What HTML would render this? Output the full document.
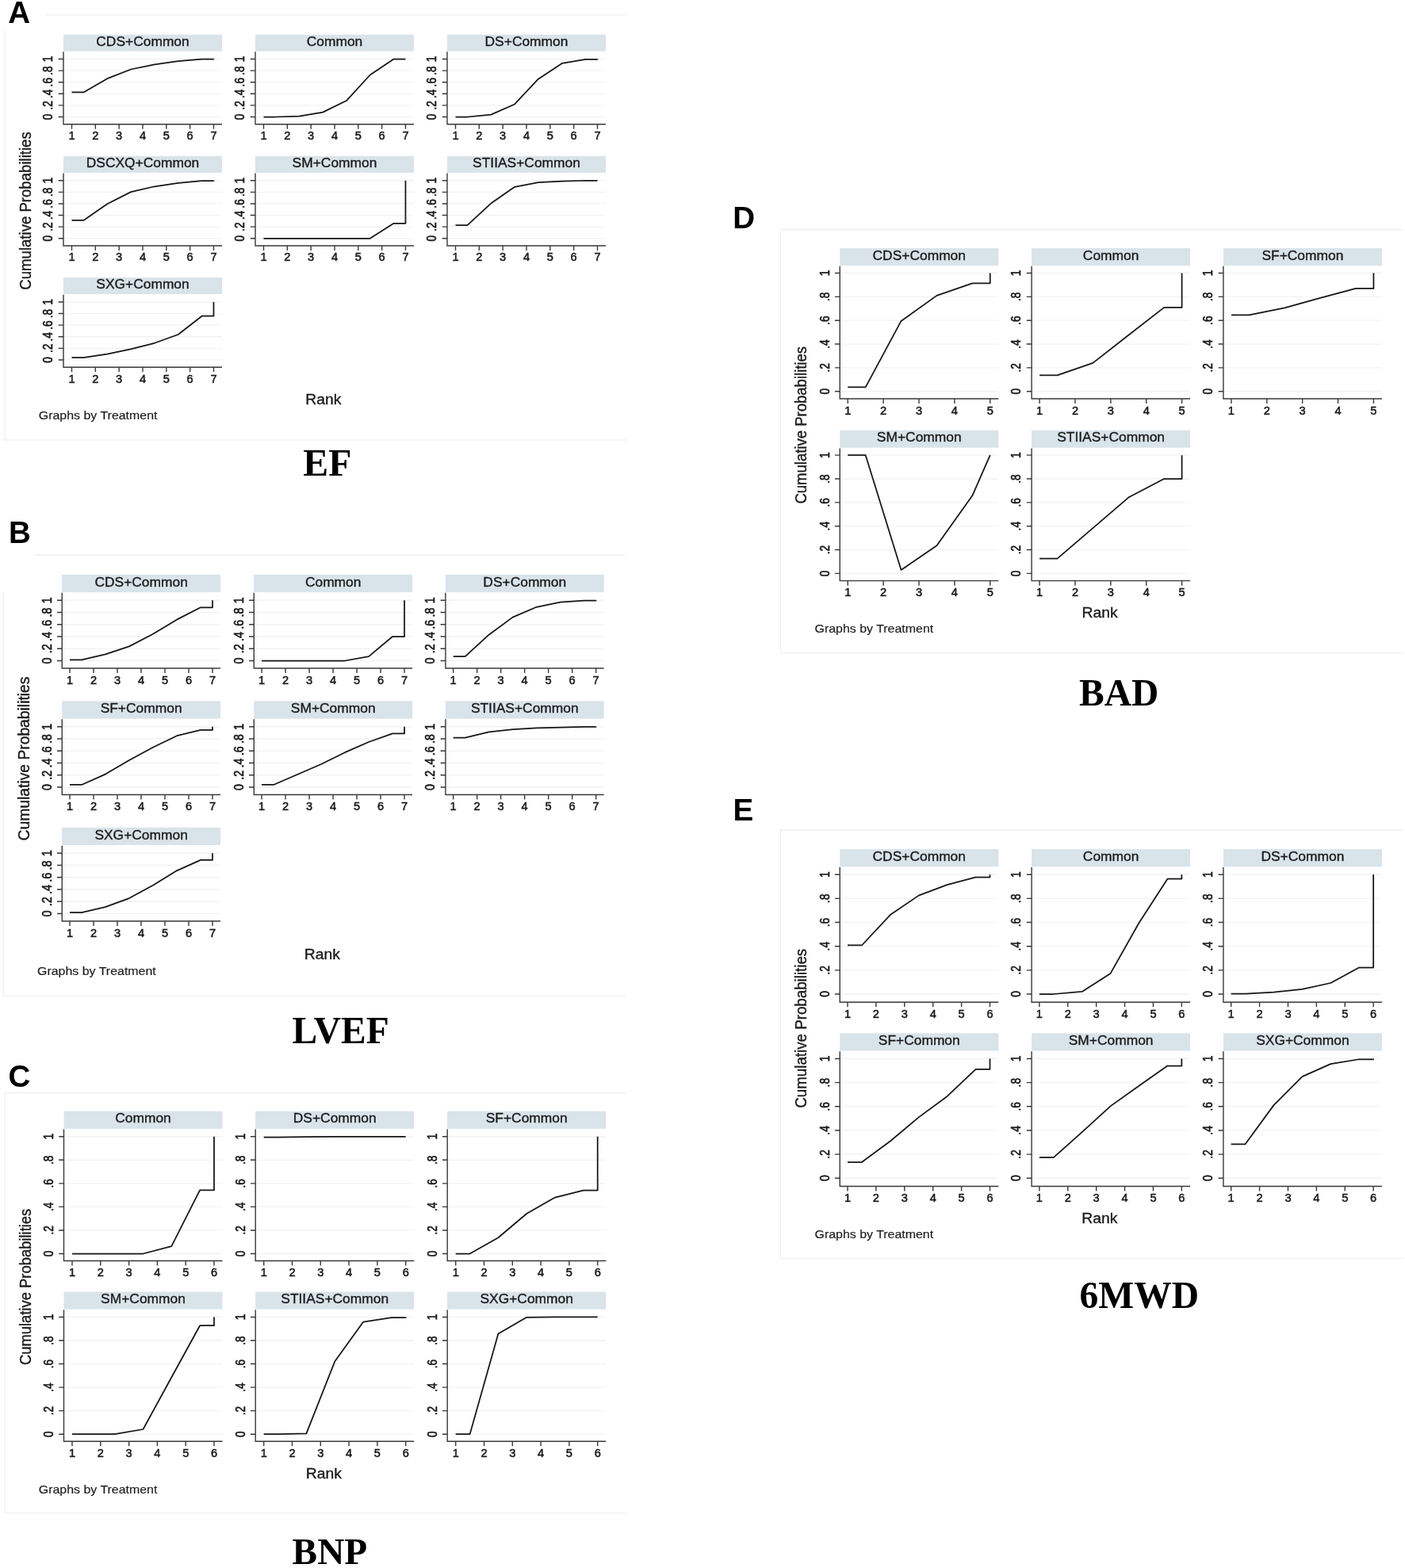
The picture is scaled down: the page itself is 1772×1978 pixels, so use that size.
<!DOCTYPE html>
<html lang="en"><head><meta charset="utf-8"><title>Cumulative ranking probability plots</title>
<style>
html,body{margin:0;padding:0;background:#fff;}
body{width:1772px;height:1978px;overflow:hidden;}
svg{display:block;}
text{font-family:"Liberation Sans", Arial, Helvetica, sans-serif;fill:#1a1a1a;stroke:#1a1a1a;stroke-width:0.35px;}
.hd{fill:#d9e3ea;}
.gr{stroke:#f1f3f4;stroke-width:1.3;fill:none;}
.ax{stroke:#383838;stroke-width:1.4;fill:none;}
.ln{stroke:#151515;stroke-width:1.75;fill:none;stroke-linejoin:round;stroke-linecap:butt;}
.bd{stroke:#eef0f1;stroke-width:1.3;fill:none;}
.m{text-anchor:middle;}
.t{stroke-width:0.55px;}
.n{stroke-width:0.15px;}
.lt{font-weight:bold;font-size:38.6px;fill:#000;stroke:none;}
.nm{font-family:"Liberation Serif", "Times New Roman", Times, serif;font-weight:bold;fill:#000;stroke:none;}
</style></head><body>
<svg width="1772" height="1978" viewBox="0 0 1772 1978" role="img" aria-label="Cumulative ranking probability plots for EF, LVEF, BNP, BAD and 6MWD">
<rect width="1772" height="1978" fill="#fff"/>
<g>
<path class="bd" d="M57.8 18.9H789.5"/>
<path class="bd" d="M5.9 37.9V555H789.5"/>
<text class="lt" x="10.3" y="28.9">A</text>
<g>
<rect class="hd" x="80" y="43.65" width="200" height="20.95"/>
<text class="m" transform="translate(180 57.69) scale(1 1)" font-size="17.4">CDS+Common</text>
<path class="gr" d="M81 147.5H280M81 132.9H280M81 118.3H280M81 103.7H280M81 89.1H280M81 74.5H280"/>
<path class="ax" d="M80 65.3V156.75H280M73.7 147.5H80M73.7 132.9H80M73.7 118.3H80M73.7 103.7H80M73.7 89.1H80M73.7 74.5H80M90.5 156.75V162.75M120.33 156.75V162.75M150.16 156.75V162.75M179.99 156.75V162.75M209.82 156.75V162.75M239.65 156.75V162.75M269.48 156.75V162.75"/>
<polyline class="ln" points="90.5,116.4 105.41,116.4 135.25,99.17 165.07,87.49 194.91,81.29 224.73,77.2 254.56,74.65 269.48,74.65 269.48,74.5"/>
<text class="m t" x="90.5" y="176.05" font-size="14.6">1</text>
<text class="m t" x="120.33" y="176.05" font-size="14.6">2</text>
<text class="m t" x="150.16" y="176.05" font-size="14.6">3</text>
<text class="m t" x="179.99" y="176.05" font-size="14.6">4</text>
<text class="m t" x="209.82" y="176.05" font-size="14.6">5</text>
<text class="m t" x="239.65" y="176.05" font-size="14.6">6</text>
<text class="m t" x="269.48" y="176.05" font-size="14.6">7</text>
<text class="m t" transform="translate(66.3 147.5) rotate(-90) scale(1 1.2)" font-size="13.72">0</text>
<text class="m t" transform="translate(66.3 132.9) rotate(-90) scale(1 1.2)" font-size="13.72">.2</text>
<text class="m t" transform="translate(66.3 118.3) rotate(-90) scale(1 1.2)" font-size="13.72">.4</text>
<text class="m t" transform="translate(66.3 103.7) rotate(-90) scale(1 1.2)" font-size="13.72">.6</text>
<text class="m t" transform="translate(66.3 89.1) rotate(-90) scale(1 1.2)" font-size="13.72">.8</text>
<text class="m t" transform="translate(66.3 74.5) rotate(-90) scale(1 1.2)" font-size="13.72">1</text>
</g>
<g>
<rect class="hd" x="322" y="43.65" width="200" height="20.95"/>
<text class="m" transform="translate(422 57.69) scale(1 1)" font-size="17.4">Common</text>
<path class="gr" d="M323 147.5H522M323 132.9H522M323 118.3H522M323 103.7H522M323 89.1H522M323 74.5H522"/>
<path class="ax" d="M322 65.3V156.75H522M315.7 147.5H322M315.7 132.9H322M315.7 118.3H322M315.7 103.7H322M315.7 89.1H322M315.7 74.5H322M332.5 156.75V162.75M362.33 156.75V162.75M392.16 156.75V162.75M421.99 156.75V162.75M451.82 156.75V162.75M481.65 156.75V162.75M511.48 156.75V162.75"/>
<polyline class="ln" points="332.5,147.5 347.42,147.5 377.25,146.7 407.07,141.66 436.9,127.06 466.74,94.5 496.56,74.5 511.48,74.5 511.48,74.5"/>
<text class="m t" x="332.5" y="176.05" font-size="14.6">1</text>
<text class="m t" x="362.33" y="176.05" font-size="14.6">2</text>
<text class="m t" x="392.16" y="176.05" font-size="14.6">3</text>
<text class="m t" x="421.99" y="176.05" font-size="14.6">4</text>
<text class="m t" x="451.82" y="176.05" font-size="14.6">5</text>
<text class="m t" x="481.65" y="176.05" font-size="14.6">6</text>
<text class="m t" x="511.48" y="176.05" font-size="14.6">7</text>
<text class="m t" transform="translate(308.3 147.5) rotate(-90) scale(1 1.2)" font-size="13.72">0</text>
<text class="m t" transform="translate(308.3 132.9) rotate(-90) scale(1 1.2)" font-size="13.72">.2</text>
<text class="m t" transform="translate(308.3 118.3) rotate(-90) scale(1 1.2)" font-size="13.72">.4</text>
<text class="m t" transform="translate(308.3 103.7) rotate(-90) scale(1 1.2)" font-size="13.72">.6</text>
<text class="m t" transform="translate(308.3 89.1) rotate(-90) scale(1 1.2)" font-size="13.72">.8</text>
<text class="m t" transform="translate(308.3 74.5) rotate(-90) scale(1 1.2)" font-size="13.72">1</text>
</g>
<g>
<rect class="hd" x="564" y="43.65" width="200" height="20.95"/>
<text class="m" transform="translate(664 57.69) scale(1 1)" font-size="17.4">DS+Common</text>
<path class="gr" d="M565 147.5H764M565 132.9H764M565 118.3H764M565 103.7H764M565 89.1H764M565 74.5H764"/>
<path class="ax" d="M564 65.3V156.75H764M557.7 147.5H564M557.7 132.9H564M557.7 118.3H564M557.7 103.7H564M557.7 89.1H564M557.7 74.5H564M574.5 156.75V162.75M604.33 156.75V162.75M634.16 156.75V162.75M663.99 156.75V162.75M693.82 156.75V162.75M723.65 156.75V162.75M753.48 156.75V162.75"/>
<polyline class="ln" points="574.5,147.5 589.41,147.5 619.25,144.58 649.08,131.44 678.9,99.69 708.74,79.9 738.57,74.79 753.48,74.79 753.48,74.5"/>
<text class="m t" x="574.5" y="176.05" font-size="14.6">1</text>
<text class="m t" x="604.33" y="176.05" font-size="14.6">2</text>
<text class="m t" x="634.16" y="176.05" font-size="14.6">3</text>
<text class="m t" x="663.99" y="176.05" font-size="14.6">4</text>
<text class="m t" x="693.82" y="176.05" font-size="14.6">5</text>
<text class="m t" x="723.65" y="176.05" font-size="14.6">6</text>
<text class="m t" x="753.48" y="176.05" font-size="14.6">7</text>
<text class="m t" transform="translate(550.3 147.5) rotate(-90) scale(1 1.2)" font-size="13.72">0</text>
<text class="m t" transform="translate(550.3 132.9) rotate(-90) scale(1 1.2)" font-size="13.72">.2</text>
<text class="m t" transform="translate(550.3 118.3) rotate(-90) scale(1 1.2)" font-size="13.72">.4</text>
<text class="m t" transform="translate(550.3 103.7) rotate(-90) scale(1 1.2)" font-size="13.72">.6</text>
<text class="m t" transform="translate(550.3 89.1) rotate(-90) scale(1 1.2)" font-size="13.72">.8</text>
<text class="m t" transform="translate(550.3 74.5) rotate(-90) scale(1 1.2)" font-size="13.72">1</text>
</g>
<g>
<rect class="hd" x="80" y="196.9" width="200" height="20.95"/>
<text class="m" transform="translate(180 210.94) scale(1 1)" font-size="17.4">DSCXQ+Common</text>
<path class="gr" d="M81 300.75H280M81 286.15H280M81 271.55H280M81 256.95H280M81 242.35H280M81 227.75H280"/>
<path class="ax" d="M80 218.55V310H280M73.7 300.75H80M73.7 286.15H80M73.7 271.55H80M73.7 256.95H80M73.7 242.35H80M73.7 227.75H80M90.5 310V316M120.33 310V316M150.16 310V316M179.99 310V316M209.82 310V316M239.65 310V316M269.48 310V316"/>
<polyline class="ln" points="90.5,277.97 105.41,277.97 135.25,257.31 165.07,242.13 194.91,235.27 224.73,230.82 254.56,228.04 269.48,228.04 269.48,227.75"/>
<text class="m t" x="90.5" y="329.3" font-size="14.6">1</text>
<text class="m t" x="120.33" y="329.3" font-size="14.6">2</text>
<text class="m t" x="150.16" y="329.3" font-size="14.6">3</text>
<text class="m t" x="179.99" y="329.3" font-size="14.6">4</text>
<text class="m t" x="209.82" y="329.3" font-size="14.6">5</text>
<text class="m t" x="239.65" y="329.3" font-size="14.6">6</text>
<text class="m t" x="269.48" y="329.3" font-size="14.6">7</text>
<text class="m t" transform="translate(66.3 300.75) rotate(-90) scale(1 1.2)" font-size="13.72">0</text>
<text class="m t" transform="translate(66.3 286.15) rotate(-90) scale(1 1.2)" font-size="13.72">.2</text>
<text class="m t" transform="translate(66.3 271.55) rotate(-90) scale(1 1.2)" font-size="13.72">.4</text>
<text class="m t" transform="translate(66.3 256.95) rotate(-90) scale(1 1.2)" font-size="13.72">.6</text>
<text class="m t" transform="translate(66.3 242.35) rotate(-90) scale(1 1.2)" font-size="13.72">.8</text>
<text class="m t" transform="translate(66.3 227.75) rotate(-90) scale(1 1.2)" font-size="13.72">1</text>
</g>
<g>
<rect class="hd" x="322" y="196.9" width="200" height="20.95"/>
<text class="m" transform="translate(422 210.94) scale(1 1)" font-size="17.4">SM+Common</text>
<path class="gr" d="M323 300.75H522M323 286.15H522M323 271.55H522M323 256.95H522M323 242.35H522M323 227.75H522"/>
<path class="ax" d="M322 218.55V310H522M315.7 300.75H322M315.7 286.15H322M315.7 271.55H322M315.7 256.95H322M315.7 242.35H322M315.7 227.75H322M332.5 310V316M362.33 310V316M392.16 310V316M421.99 310V316M451.82 310V316M481.65 310V316M511.48 310V316"/>
<polyline class="ln" points="332.5,300.75 347.42,300.75 377.25,300.75 407.07,300.75 436.9,300.75 466.74,300.75 496.56,281.77 511.48,281.77 511.48,227.75"/>
<text class="m t" x="332.5" y="329.3" font-size="14.6">1</text>
<text class="m t" x="362.33" y="329.3" font-size="14.6">2</text>
<text class="m t" x="392.16" y="329.3" font-size="14.6">3</text>
<text class="m t" x="421.99" y="329.3" font-size="14.6">4</text>
<text class="m t" x="451.82" y="329.3" font-size="14.6">5</text>
<text class="m t" x="481.65" y="329.3" font-size="14.6">6</text>
<text class="m t" x="511.48" y="329.3" font-size="14.6">7</text>
<text class="m t" transform="translate(308.3 300.75) rotate(-90) scale(1 1.2)" font-size="13.72">0</text>
<text class="m t" transform="translate(308.3 286.15) rotate(-90) scale(1 1.2)" font-size="13.72">.2</text>
<text class="m t" transform="translate(308.3 271.55) rotate(-90) scale(1 1.2)" font-size="13.72">.4</text>
<text class="m t" transform="translate(308.3 256.95) rotate(-90) scale(1 1.2)" font-size="13.72">.6</text>
<text class="m t" transform="translate(308.3 242.35) rotate(-90) scale(1 1.2)" font-size="13.72">.8</text>
<text class="m t" transform="translate(308.3 227.75) rotate(-90) scale(1 1.2)" font-size="13.72">1</text>
</g>
<g>
<rect class="hd" x="564" y="196.9" width="200" height="20.95"/>
<text class="m" transform="translate(664 210.94) scale(1 1)" font-size="17.4">STIIAS+Common</text>
<path class="gr" d="M565 300.75H764M565 286.15H764M565 271.55H764M565 256.95H764M565 242.35H764M565 227.75H764"/>
<path class="ax" d="M564 218.55V310H764M557.7 300.75H564M557.7 286.15H564M557.7 271.55H564M557.7 256.95H564M557.7 242.35H564M557.7 227.75H564M574.5 310V316M604.33 310V316M634.16 310V316M663.99 310V316M693.82 310V316M723.65 310V316M753.48 310V316"/>
<polyline class="ln" points="574.5,284.11 589.41,284.11 619.25,256.58 649.08,235.78 678.9,230.16 708.74,228.55 738.57,227.75 753.48,227.75 753.48,227.75"/>
<text class="m t" x="574.5" y="329.3" font-size="14.6">1</text>
<text class="m t" x="604.33" y="329.3" font-size="14.6">2</text>
<text class="m t" x="634.16" y="329.3" font-size="14.6">3</text>
<text class="m t" x="663.99" y="329.3" font-size="14.6">4</text>
<text class="m t" x="693.82" y="329.3" font-size="14.6">5</text>
<text class="m t" x="723.65" y="329.3" font-size="14.6">6</text>
<text class="m t" x="753.48" y="329.3" font-size="14.6">7</text>
<text class="m t" transform="translate(550.3 300.75) rotate(-90) scale(1 1.2)" font-size="13.72">0</text>
<text class="m t" transform="translate(550.3 286.15) rotate(-90) scale(1 1.2)" font-size="13.72">.2</text>
<text class="m t" transform="translate(550.3 271.55) rotate(-90) scale(1 1.2)" font-size="13.72">.4</text>
<text class="m t" transform="translate(550.3 256.95) rotate(-90) scale(1 1.2)" font-size="13.72">.6</text>
<text class="m t" transform="translate(550.3 242.35) rotate(-90) scale(1 1.2)" font-size="13.72">.8</text>
<text class="m t" transform="translate(550.3 227.75) rotate(-90) scale(1 1.2)" font-size="13.72">1</text>
</g>
<g>
<rect class="hd" x="80" y="350.1" width="200" height="20.95"/>
<text class="m" transform="translate(180 364.14) scale(1 1)" font-size="17.4">SXG+Common</text>
<path class="gr" d="M81 453.95H280M81 439.35H280M81 424.75H280M81 410.15H280M81 395.55H280M81 380.95H280"/>
<path class="ax" d="M80 371.75V463.2H280M73.7 453.95H80M73.7 439.35H80M73.7 424.75H80M73.7 410.15H80M73.7 395.55H80M73.7 380.95H80M90.5 463.2V469.2M120.33 463.2V469.2M150.16 463.2V469.2M179.99 463.2V469.2M209.82 463.2V469.2M239.65 463.2V469.2M269.48 463.2V469.2"/>
<polyline class="ln" points="90.5,451.03 105.41,451.03 135.25,446.65 165.07,440.3 194.91,432.78 224.73,422.05 254.56,398.69 269.48,398.69 269.48,380.95"/>
<text class="m t" x="90.5" y="482.5" font-size="14.6">1</text>
<text class="m t" x="120.33" y="482.5" font-size="14.6">2</text>
<text class="m t" x="150.16" y="482.5" font-size="14.6">3</text>
<text class="m t" x="179.99" y="482.5" font-size="14.6">4</text>
<text class="m t" x="209.82" y="482.5" font-size="14.6">5</text>
<text class="m t" x="239.65" y="482.5" font-size="14.6">6</text>
<text class="m t" x="269.48" y="482.5" font-size="14.6">7</text>
<text class="m t" transform="translate(66.3 453.95) rotate(-90) scale(1 1.2)" font-size="13.72">0</text>
<text class="m t" transform="translate(66.3 439.35) rotate(-90) scale(1 1.2)" font-size="13.72">.2</text>
<text class="m t" transform="translate(66.3 424.75) rotate(-90) scale(1 1.2)" font-size="13.72">.4</text>
<text class="m t" transform="translate(66.3 410.15) rotate(-90) scale(1 1.2)" font-size="13.72">.6</text>
<text class="m t" transform="translate(66.3 395.55) rotate(-90) scale(1 1.2)" font-size="13.72">.8</text>
<text class="m t" transform="translate(66.3 380.95) rotate(-90) scale(1 1.2)" font-size="13.72">1</text>
</g>
<text class="m" transform="translate(407.9 510) scale(1.07 1)" font-size="18.1">Rank</text>
<text class="n" transform="translate(48.75 528.9) scale(1.085 1)" font-size="14.7">Graphs by Treatment</text>
<text class="m" transform="translate(39.3 266) rotate(-90) scale(1 1.08)" font-size="18.6">Cumulative Probabilities</text>
<text class="nm" x="382.3" y="599.5" font-size="47.8">EF</text>
</g>
<g>
<path class="bd" d="M43.5 700H788.5"/>
<path class="bd" d="M4.3 746.8V1256.5H788.5"/>
<text class="lt" x="11" y="685">B</text>
<g>
<rect class="hd" x="78.25" y="724.9" width="199.75" height="22.2"/>
<text class="m" transform="translate(178.12 739.86) scale(1 1)" font-size="17.4">CDS+Common</text>
<path class="gr" d="M79.25 833.5H278M79.25 818.25H278M79.25 803H278M79.25 787.75H278M79.25 772.5H278M79.25 757.25H278"/>
<path class="ax" d="M78.25 747.8V843H278M71.95 833.5H78.25M71.95 818.25H78.25M71.95 803H78.25M71.95 787.75H78.25M71.95 772.5H78.25M71.95 757.25H78.25M88 843V849M118 843V849M148 843V849M178 843V849M208 843V849M238 843V849M268 843V849"/>
<polyline class="ln" points="88,832.28 103,832.28 133,825.42 163,815.35 193,799.8 223,781.65 253,766.25 268,766.25 268,757.25"/>
<text class="m t" x="88" y="862.6" font-size="14.6">1</text>
<text class="m t" x="118" y="862.6" font-size="14.6">2</text>
<text class="m t" x="148" y="862.6" font-size="14.6">3</text>
<text class="m t" x="178" y="862.6" font-size="14.6">4</text>
<text class="m t" x="208" y="862.6" font-size="14.6">5</text>
<text class="m t" x="238" y="862.6" font-size="14.6">6</text>
<text class="m t" x="268" y="862.6" font-size="14.6">7</text>
<text class="m t" transform="translate(64.55 833.5) rotate(-90) scale(1.037 1.2)" font-size="13.72">0</text>
<text class="m t" transform="translate(64.55 818.25) rotate(-90) scale(1.037 1.2)" font-size="13.72">.2</text>
<text class="m t" transform="translate(64.55 803) rotate(-90) scale(1.037 1.2)" font-size="13.72">.4</text>
<text class="m t" transform="translate(64.55 787.75) rotate(-90) scale(1.037 1.2)" font-size="13.72">.6</text>
<text class="m t" transform="translate(64.55 772.5) rotate(-90) scale(1.037 1.2)" font-size="13.72">.8</text>
<text class="m t" transform="translate(64.55 757.25) rotate(-90) scale(1.037 1.2)" font-size="13.72">1</text>
</g>
<g>
<rect class="hd" x="320.3" y="724.9" width="199.75" height="22.2"/>
<text class="m" transform="translate(420.18 739.86) scale(1 1)" font-size="17.4">Common</text>
<path class="gr" d="M321.3 833.5H520.05M321.3 818.25H520.05M321.3 803H520.05M321.3 787.75H520.05M321.3 772.5H520.05M321.3 757.25H520.05"/>
<path class="ax" d="M320.3 747.8V843H520.05M314 833.5H320.3M314 818.25H320.3M314 803H320.3M314 787.75H320.3M314 772.5H320.3M314 757.25H320.3M330.05 843V849M360.05 843V849M390.05 843V849M420.05 843V849M450.05 843V849M480.05 843V849M510.05 843V849"/>
<polyline class="ln" points="330.05,833.5 345.05,833.5 375.05,833.5 405.05,833.5 435.05,833.5 465.05,828.16 495.05,803 510.05,803 510.05,757.25"/>
<text class="m t" x="330.05" y="862.6" font-size="14.6">1</text>
<text class="m t" x="360.05" y="862.6" font-size="14.6">2</text>
<text class="m t" x="390.05" y="862.6" font-size="14.6">3</text>
<text class="m t" x="420.05" y="862.6" font-size="14.6">4</text>
<text class="m t" x="450.05" y="862.6" font-size="14.6">5</text>
<text class="m t" x="480.05" y="862.6" font-size="14.6">6</text>
<text class="m t" x="510.05" y="862.6" font-size="14.6">7</text>
<text class="m t" transform="translate(306.6 833.5) rotate(-90) scale(1.037 1.2)" font-size="13.72">0</text>
<text class="m t" transform="translate(306.6 818.25) rotate(-90) scale(1.037 1.2)" font-size="13.72">.2</text>
<text class="m t" transform="translate(306.6 803) rotate(-90) scale(1.037 1.2)" font-size="13.72">.4</text>
<text class="m t" transform="translate(306.6 787.75) rotate(-90) scale(1.037 1.2)" font-size="13.72">.6</text>
<text class="m t" transform="translate(306.6 772.5) rotate(-90) scale(1.037 1.2)" font-size="13.72">.8</text>
<text class="m t" transform="translate(306.6 757.25) rotate(-90) scale(1.037 1.2)" font-size="13.72">1</text>
</g>
<g>
<rect class="hd" x="561.9" y="724.9" width="199.75" height="22.2"/>
<text class="m" transform="translate(661.77 739.86) scale(1 1)" font-size="17.4">DS+Common</text>
<path class="gr" d="M562.9 833.5H761.65M562.9 818.25H761.65M562.9 803H761.65M562.9 787.75H761.65M562.9 772.5H761.65M562.9 757.25H761.65"/>
<path class="ax" d="M561.9 747.8V843H761.65M555.6 833.5H561.9M555.6 818.25H561.9M555.6 803H561.9M555.6 787.75H561.9M555.6 772.5H561.9M555.6 757.25H561.9M571.65 843V849M601.65 843V849M631.65 843V849M661.65 843V849M691.65 843V849M721.65 843V849M751.65 843V849"/>
<polyline class="ln" points="571.65,828.16 586.65,828.16 616.65,800.71 646.65,778.6 676.65,765.79 706.65,759.69 736.65,757.63 751.65,757.63 751.65,757.25"/>
<text class="m t" x="571.65" y="862.6" font-size="14.6">1</text>
<text class="m t" x="601.65" y="862.6" font-size="14.6">2</text>
<text class="m t" x="631.65" y="862.6" font-size="14.6">3</text>
<text class="m t" x="661.65" y="862.6" font-size="14.6">4</text>
<text class="m t" x="691.65" y="862.6" font-size="14.6">5</text>
<text class="m t" x="721.65" y="862.6" font-size="14.6">6</text>
<text class="m t" x="751.65" y="862.6" font-size="14.6">7</text>
<text class="m t" transform="translate(548.2 833.5) rotate(-90) scale(1.037 1.2)" font-size="13.72">0</text>
<text class="m t" transform="translate(548.2 818.25) rotate(-90) scale(1.037 1.2)" font-size="13.72">.2</text>
<text class="m t" transform="translate(548.2 803) rotate(-90) scale(1.037 1.2)" font-size="13.72">.4</text>
<text class="m t" transform="translate(548.2 787.75) rotate(-90) scale(1.037 1.2)" font-size="13.72">.6</text>
<text class="m t" transform="translate(548.2 772.5) rotate(-90) scale(1.037 1.2)" font-size="13.72">.8</text>
<text class="m t" transform="translate(548.2 757.25) rotate(-90) scale(1.037 1.2)" font-size="13.72">1</text>
</g>
<g>
<rect class="hd" x="78.25" y="884.4" width="199.75" height="22.2"/>
<text class="m" transform="translate(178.12 899.36) scale(1 1)" font-size="17.4">SF+Common</text>
<path class="gr" d="M79.25 993H278M79.25 977.75H278M79.25 962.5H278M79.25 947.25H278M79.25 932H278M79.25 916.75H278"/>
<path class="ax" d="M78.25 907.3V1002.5H278M71.95 993H78.25M71.95 977.75H78.25M71.95 962.5H78.25M71.95 947.25H78.25M71.95 932H78.25M71.95 916.75H78.25M88 1002.5V1008.5M118 1002.5V1008.5M148 1002.5V1008.5M178 1002.5V1008.5M208 1002.5V1008.5M238 1002.5V1008.5M268 1002.5V1008.5"/>
<polyline class="ln" points="88,989.95 103,989.95 133,976.61 163,958.99 193,942.67 223,928.19 253,920.87 268,920.87 268,916.75"/>
<text class="m t" x="88" y="1022.1" font-size="14.6">1</text>
<text class="m t" x="118" y="1022.1" font-size="14.6">2</text>
<text class="m t" x="148" y="1022.1" font-size="14.6">3</text>
<text class="m t" x="178" y="1022.1" font-size="14.6">4</text>
<text class="m t" x="208" y="1022.1" font-size="14.6">5</text>
<text class="m t" x="238" y="1022.1" font-size="14.6">6</text>
<text class="m t" x="268" y="1022.1" font-size="14.6">7</text>
<text class="m t" transform="translate(64.55 993) rotate(-90) scale(1.037 1.2)" font-size="13.72">0</text>
<text class="m t" transform="translate(64.55 977.75) rotate(-90) scale(1.037 1.2)" font-size="13.72">.2</text>
<text class="m t" transform="translate(64.55 962.5) rotate(-90) scale(1.037 1.2)" font-size="13.72">.4</text>
<text class="m t" transform="translate(64.55 947.25) rotate(-90) scale(1.037 1.2)" font-size="13.72">.6</text>
<text class="m t" transform="translate(64.55 932) rotate(-90) scale(1.037 1.2)" font-size="13.72">.8</text>
<text class="m t" transform="translate(64.55 916.75) rotate(-90) scale(1.037 1.2)" font-size="13.72">1</text>
</g>
<g>
<rect class="hd" x="320.3" y="884.4" width="199.75" height="22.2"/>
<text class="m" transform="translate(420.18 899.36) scale(1 1)" font-size="17.4">SM+Common</text>
<path class="gr" d="M321.3 993H520.05M321.3 977.75H520.05M321.3 962.5H520.05M321.3 947.25H520.05M321.3 932H520.05M321.3 916.75H520.05"/>
<path class="ax" d="M320.3 907.3V1002.5H520.05M314 993H320.3M314 977.75H320.3M314 962.5H320.3M314 947.25H320.3M314 932H320.3M314 916.75H320.3M330.05 1002.5V1008.5M360.05 1002.5V1008.5M390.05 1002.5V1008.5M420.05 1002.5V1008.5M450.05 1002.5V1008.5M480.05 1002.5V1008.5M510.05 1002.5V1008.5"/>
<polyline class="ln" points="330.05,989.95 345.05,989.95 375.05,976.99 405.05,964.02 435.05,949.16 465.05,936.04 495.05,925.37 510.05,925.37 510.05,916.75"/>
<text class="m t" x="330.05" y="1022.1" font-size="14.6">1</text>
<text class="m t" x="360.05" y="1022.1" font-size="14.6">2</text>
<text class="m t" x="390.05" y="1022.1" font-size="14.6">3</text>
<text class="m t" x="420.05" y="1022.1" font-size="14.6">4</text>
<text class="m t" x="450.05" y="1022.1" font-size="14.6">5</text>
<text class="m t" x="480.05" y="1022.1" font-size="14.6">6</text>
<text class="m t" x="510.05" y="1022.1" font-size="14.6">7</text>
<text class="m t" transform="translate(306.6 993) rotate(-90) scale(1.037 1.2)" font-size="13.72">0</text>
<text class="m t" transform="translate(306.6 977.75) rotate(-90) scale(1.037 1.2)" font-size="13.72">.2</text>
<text class="m t" transform="translate(306.6 962.5) rotate(-90) scale(1.037 1.2)" font-size="13.72">.4</text>
<text class="m t" transform="translate(306.6 947.25) rotate(-90) scale(1.037 1.2)" font-size="13.72">.6</text>
<text class="m t" transform="translate(306.6 932) rotate(-90) scale(1.037 1.2)" font-size="13.72">.8</text>
<text class="m t" transform="translate(306.6 916.75) rotate(-90) scale(1.037 1.2)" font-size="13.72">1</text>
</g>
<g>
<rect class="hd" x="561.9" y="884.4" width="199.75" height="22.2"/>
<text class="m" transform="translate(661.77 899.36) scale(1 1)" font-size="17.4">STIIAS+Common</text>
<path class="gr" d="M562.9 993H761.65M562.9 977.75H761.65M562.9 962.5H761.65M562.9 947.25H761.65M562.9 932H761.65M562.9 916.75H761.65"/>
<path class="ax" d="M561.9 907.3V1002.5H761.65M555.6 993H561.9M555.6 977.75H561.9M555.6 962.5H561.9M555.6 947.25H561.9M555.6 932H561.9M555.6 916.75H561.9M571.65 1002.5V1008.5M601.65 1002.5V1008.5M631.65 1002.5V1008.5M661.65 1002.5V1008.5M691.65 1002.5V1008.5M721.65 1002.5V1008.5M751.65 1002.5V1008.5"/>
<polyline class="ln" points="571.65,930.7 586.65,930.7 616.65,923.31 646.65,920.03 676.65,918.43 706.65,917.59 736.65,916.98 751.65,916.98 751.65,916.75"/>
<text class="m t" x="571.65" y="1022.1" font-size="14.6">1</text>
<text class="m t" x="601.65" y="1022.1" font-size="14.6">2</text>
<text class="m t" x="631.65" y="1022.1" font-size="14.6">3</text>
<text class="m t" x="661.65" y="1022.1" font-size="14.6">4</text>
<text class="m t" x="691.65" y="1022.1" font-size="14.6">5</text>
<text class="m t" x="721.65" y="1022.1" font-size="14.6">6</text>
<text class="m t" x="751.65" y="1022.1" font-size="14.6">7</text>
<text class="m t" transform="translate(548.2 993) rotate(-90) scale(1.037 1.2)" font-size="13.72">0</text>
<text class="m t" transform="translate(548.2 977.75) rotate(-90) scale(1.037 1.2)" font-size="13.72">.2</text>
<text class="m t" transform="translate(548.2 962.5) rotate(-90) scale(1.037 1.2)" font-size="13.72">.4</text>
<text class="m t" transform="translate(548.2 947.25) rotate(-90) scale(1.037 1.2)" font-size="13.72">.6</text>
<text class="m t" transform="translate(548.2 932) rotate(-90) scale(1.037 1.2)" font-size="13.72">.8</text>
<text class="m t" transform="translate(548.2 916.75) rotate(-90) scale(1.037 1.2)" font-size="13.72">1</text>
</g>
<g>
<rect class="hd" x="78.25" y="1043.9" width="199.75" height="22.2"/>
<text class="m" transform="translate(178.12 1058.86) scale(1 1)" font-size="17.4">SXG+Common</text>
<path class="gr" d="M79.25 1152.5H278M79.25 1137.25H278M79.25 1122H278M79.25 1106.75H278M79.25 1091.5H278M79.25 1076.25H278"/>
<path class="ax" d="M78.25 1066.8V1162H278M71.95 1152.5H78.25M71.95 1137.25H78.25M71.95 1122H78.25M71.95 1106.75H78.25M71.95 1091.5H78.25M71.95 1076.25H78.25M88 1162V1168M118 1162V1168M148 1162V1168M178 1162V1168M208 1162V1168M238 1162V1168M268 1162V1168"/>
<polyline class="ln" points="88,1151.2 103,1151.2 133,1144.11 163,1133.06 193,1116.66 223,1098.36 253,1084.87 268,1084.87 268,1076.25"/>
<text class="m t" x="88" y="1181.6" font-size="14.6">1</text>
<text class="m t" x="118" y="1181.6" font-size="14.6">2</text>
<text class="m t" x="148" y="1181.6" font-size="14.6">3</text>
<text class="m t" x="178" y="1181.6" font-size="14.6">4</text>
<text class="m t" x="208" y="1181.6" font-size="14.6">5</text>
<text class="m t" x="238" y="1181.6" font-size="14.6">6</text>
<text class="m t" x="268" y="1181.6" font-size="14.6">7</text>
<text class="m t" transform="translate(64.55 1152.5) rotate(-90) scale(1.037 1.2)" font-size="13.72">0</text>
<text class="m t" transform="translate(64.55 1137.25) rotate(-90) scale(1.037 1.2)" font-size="13.72">.2</text>
<text class="m t" transform="translate(64.55 1122) rotate(-90) scale(1.037 1.2)" font-size="13.72">.4</text>
<text class="m t" transform="translate(64.55 1106.75) rotate(-90) scale(1.037 1.2)" font-size="13.72">.6</text>
<text class="m t" transform="translate(64.55 1091.5) rotate(-90) scale(1.037 1.2)" font-size="13.72">.8</text>
<text class="m t" transform="translate(64.55 1076.25) rotate(-90) scale(1.037 1.2)" font-size="13.72">1</text>
</g>
<text class="m" transform="translate(406.3 1209.7) scale(1.07 1.037)" font-size="18.1">Rank</text>
<text class="n" transform="translate(47 1230.2) scale(1.085 1.037)" font-size="14.7">Graphs by Treatment</text>
<text class="m" transform="translate(37.3 957) rotate(-90) scale(1.037 1.08)" font-size="18.6">Cumulative Probabilities</text>
<text class="nm" x="368.5" y="1316.2" font-size="47.5">LVEF</text>
</g>
<g>
<path class="bd" d="M6.1 1378.5H789.5"/>
<path class="bd" d="M6.1 1378.5V1908.7H789.5"/>
<text class="lt" x="10.6" y="1370.6">C</text>
<g>
<rect class="hd" x="80.5" y="1401.9" width="200" height="21.95"/>
<text class="m" transform="translate(180.5 1416.36) scale(1 1)" font-size="17.4">Common</text>
<path class="gr" d="M81.5 1581.5H280.5M81.5 1551.95H280.5M81.5 1522.4H280.5M81.5 1492.85H280.5M81.5 1463.3H280.5M81.5 1433.75H280.5"/>
<path class="ax" d="M80.5 1424.55V1590.5H280.5M74.2 1581.5H80.5M74.2 1551.95H80.5M74.2 1522.4H80.5M74.2 1492.85H80.5M74.2 1463.3H80.5M74.2 1433.75H80.5M91 1590.5V1596.5M126.8 1590.5V1596.5M162.6 1590.5V1596.5M198.4 1590.5V1596.5M234.2 1590.5V1596.5M270 1590.5V1596.5"/>
<polyline class="ln" points="91,1581.5 108.9,1581.5 144.7,1581.5 180.5,1581.5 216.3,1572.04 252.1,1501.27 270,1501.27 270,1433.75"/>
<text class="m t" x="91" y="1610" font-size="14.6">1</text>
<text class="m t" x="126.8" y="1610" font-size="14.6">2</text>
<text class="m t" x="162.6" y="1610" font-size="14.6">3</text>
<text class="m t" x="198.4" y="1610" font-size="14.6">4</text>
<text class="m t" x="234.2" y="1610" font-size="14.6">5</text>
<text class="m t" x="270" y="1610" font-size="14.6">6</text>
<text class="m t" transform="translate(66.8 1581.5) rotate(-90) scale(0.99 1.2)" font-size="13.72">0</text>
<text class="m t" transform="translate(66.8 1551.95) rotate(-90) scale(0.99 1.2)" font-size="13.72">.2</text>
<text class="m t" transform="translate(66.8 1522.4) rotate(-90) scale(0.99 1.2)" font-size="13.72">.4</text>
<text class="m t" transform="translate(66.8 1492.85) rotate(-90) scale(0.99 1.2)" font-size="13.72">.6</text>
<text class="m t" transform="translate(66.8 1463.3) rotate(-90) scale(0.99 1.2)" font-size="13.72">.8</text>
<text class="m t" transform="translate(66.8 1433.75) rotate(-90) scale(0.99 1.2)" font-size="13.72">1</text>
</g>
<g>
<rect class="hd" x="322.2" y="1401.9" width="200" height="21.95"/>
<text class="m" transform="translate(422.2 1416.36) scale(1 1)" font-size="17.4">DS+Common</text>
<path class="gr" d="M323.2 1581.5H522.2M323.2 1551.95H522.2M323.2 1522.4H522.2M323.2 1492.85H522.2M323.2 1463.3H522.2M323.2 1433.75H522.2"/>
<path class="ax" d="M322.2 1424.55V1590.5H522.2M315.9 1581.5H322.2M315.9 1551.95H322.2M315.9 1522.4H322.2M315.9 1492.85H322.2M315.9 1463.3H322.2M315.9 1433.75H322.2M332.7 1590.5V1596.5M368.5 1590.5V1596.5M404.3 1590.5V1596.5M440.1 1590.5V1596.5M475.9 1590.5V1596.5M511.7 1590.5V1596.5"/>
<polyline class="ln" points="332.7,1434.64 350.6,1434.64 386.4,1434.19 422.2,1433.9 458,1433.75 493.8,1433.75 511.7,1433.75 511.7,1433.75"/>
<text class="m t" x="332.7" y="1610" font-size="14.6">1</text>
<text class="m t" x="368.5" y="1610" font-size="14.6">2</text>
<text class="m t" x="404.3" y="1610" font-size="14.6">3</text>
<text class="m t" x="440.1" y="1610" font-size="14.6">4</text>
<text class="m t" x="475.9" y="1610" font-size="14.6">5</text>
<text class="m t" x="511.7" y="1610" font-size="14.6">6</text>
<text class="m t" transform="translate(308.5 1581.5) rotate(-90) scale(0.99 1.2)" font-size="13.72">0</text>
<text class="m t" transform="translate(308.5 1551.95) rotate(-90) scale(0.99 1.2)" font-size="13.72">.2</text>
<text class="m t" transform="translate(308.5 1522.4) rotate(-90) scale(0.99 1.2)" font-size="13.72">.4</text>
<text class="m t" transform="translate(308.5 1492.85) rotate(-90) scale(0.99 1.2)" font-size="13.72">.6</text>
<text class="m t" transform="translate(308.5 1463.3) rotate(-90) scale(0.99 1.2)" font-size="13.72">.8</text>
<text class="m t" transform="translate(308.5 1433.75) rotate(-90) scale(0.99 1.2)" font-size="13.72">1</text>
</g>
<g>
<rect class="hd" x="564.2" y="1401.9" width="200" height="21.95"/>
<text class="m" transform="translate(664.2 1416.36) scale(1 1)" font-size="17.4">SF+Common</text>
<path class="gr" d="M565.2 1581.5H764.2M565.2 1551.95H764.2M565.2 1522.4H764.2M565.2 1492.85H764.2M565.2 1463.3H764.2M565.2 1433.75H764.2"/>
<path class="ax" d="M564.2 1424.55V1590.5H764.2M557.9 1581.5H564.2M557.9 1551.95H564.2M557.9 1522.4H564.2M557.9 1492.85H564.2M557.9 1463.3H564.2M557.9 1433.75H564.2M574.7 1590.5V1596.5M610.5 1590.5V1596.5M646.3 1590.5V1596.5M682.1 1590.5V1596.5M717.9 1590.5V1596.5M753.7 1590.5V1596.5"/>
<polyline class="ln" points="574.7,1581.5 592.6,1581.5 628.4,1561.26 664.2,1530.97 700,1510.58 735.8,1501.57 753.7,1501.57 753.7,1433.75"/>
<text class="m t" x="574.7" y="1610" font-size="14.6">1</text>
<text class="m t" x="610.5" y="1610" font-size="14.6">2</text>
<text class="m t" x="646.3" y="1610" font-size="14.6">3</text>
<text class="m t" x="682.1" y="1610" font-size="14.6">4</text>
<text class="m t" x="717.9" y="1610" font-size="14.6">5</text>
<text class="m t" x="753.7" y="1610" font-size="14.6">6</text>
<text class="m t" transform="translate(550.5 1581.5) rotate(-90) scale(0.99 1.2)" font-size="13.72">0</text>
<text class="m t" transform="translate(550.5 1551.95) rotate(-90) scale(0.99 1.2)" font-size="13.72">.2</text>
<text class="m t" transform="translate(550.5 1522.4) rotate(-90) scale(0.99 1.2)" font-size="13.72">.4</text>
<text class="m t" transform="translate(550.5 1492.85) rotate(-90) scale(0.99 1.2)" font-size="13.72">.6</text>
<text class="m t" transform="translate(550.5 1463.3) rotate(-90) scale(0.99 1.2)" font-size="13.72">.8</text>
<text class="m t" transform="translate(550.5 1433.75) rotate(-90) scale(0.99 1.2)" font-size="13.72">1</text>
</g>
<g>
<rect class="hd" x="80.5" y="1629.6" width="200" height="21.95"/>
<text class="m" transform="translate(180.5 1644.06) scale(1 1)" font-size="17.4">SM+Common</text>
<path class="gr" d="M81.5 1809.2H280.5M81.5 1779.65H280.5M81.5 1750.1H280.5M81.5 1720.55H280.5M81.5 1691H280.5M81.5 1661.45H280.5"/>
<path class="ax" d="M80.5 1652.25V1818.2H280.5M74.2 1809.2H80.5M74.2 1779.65H80.5M74.2 1750.1H80.5M74.2 1720.55H80.5M74.2 1691H80.5M74.2 1661.45H80.5M91 1818.2V1824.2M126.8 1818.2V1824.2M162.6 1818.2V1824.2M198.4 1818.2V1824.2M234.2 1818.2V1824.2M270 1818.2V1824.2"/>
<polyline class="ln" points="91,1809.2 108.9,1809.2 144.7,1809.2 180.5,1802.99 216.3,1737.54 252.1,1672.24 270,1672.24 270,1661.45"/>
<text class="m t" x="91" y="1837.7" font-size="14.6">1</text>
<text class="m t" x="126.8" y="1837.7" font-size="14.6">2</text>
<text class="m t" x="162.6" y="1837.7" font-size="14.6">3</text>
<text class="m t" x="198.4" y="1837.7" font-size="14.6">4</text>
<text class="m t" x="234.2" y="1837.7" font-size="14.6">5</text>
<text class="m t" x="270" y="1837.7" font-size="14.6">6</text>
<text class="m t" transform="translate(66.8 1809.2) rotate(-90) scale(0.99 1.2)" font-size="13.72">0</text>
<text class="m t" transform="translate(66.8 1779.65) rotate(-90) scale(0.99 1.2)" font-size="13.72">.2</text>
<text class="m t" transform="translate(66.8 1750.1) rotate(-90) scale(0.99 1.2)" font-size="13.72">.4</text>
<text class="m t" transform="translate(66.8 1720.55) rotate(-90) scale(0.99 1.2)" font-size="13.72">.6</text>
<text class="m t" transform="translate(66.8 1691) rotate(-90) scale(0.99 1.2)" font-size="13.72">.8</text>
<text class="m t" transform="translate(66.8 1661.45) rotate(-90) scale(0.99 1.2)" font-size="13.72">1</text>
</g>
<g>
<rect class="hd" x="322.2" y="1629.6" width="200" height="21.95"/>
<text class="m" transform="translate(422.2 1644.06) scale(1 1)" font-size="17.4">STIIAS+Common</text>
<path class="gr" d="M323.2 1809.2H522.2M323.2 1779.65H522.2M323.2 1750.1H522.2M323.2 1720.55H522.2M323.2 1691H522.2M323.2 1661.45H522.2"/>
<path class="ax" d="M322.2 1652.25V1818.2H522.2M315.9 1809.2H322.2M315.9 1779.65H322.2M315.9 1750.1H322.2M315.9 1720.55H322.2M315.9 1691H322.2M315.9 1661.45H322.2M332.7 1818.2V1824.2M368.5 1818.2V1824.2M404.3 1818.2V1824.2M440.1 1818.2V1824.2M475.9 1818.2V1824.2M511.7 1818.2V1824.2"/>
<polyline class="ln" points="332.7,1809.2 350.6,1809.2 386.4,1808.31 422.2,1717.6 458,1667.66 493.8,1662.04 511.7,1662.04 511.7,1661.45"/>
<text class="m t" x="332.7" y="1837.7" font-size="14.6">1</text>
<text class="m t" x="368.5" y="1837.7" font-size="14.6">2</text>
<text class="m t" x="404.3" y="1837.7" font-size="14.6">3</text>
<text class="m t" x="440.1" y="1837.7" font-size="14.6">4</text>
<text class="m t" x="475.9" y="1837.7" font-size="14.6">5</text>
<text class="m t" x="511.7" y="1837.7" font-size="14.6">6</text>
<text class="m t" transform="translate(308.5 1809.2) rotate(-90) scale(0.99 1.2)" font-size="13.72">0</text>
<text class="m t" transform="translate(308.5 1779.65) rotate(-90) scale(0.99 1.2)" font-size="13.72">.2</text>
<text class="m t" transform="translate(308.5 1750.1) rotate(-90) scale(0.99 1.2)" font-size="13.72">.4</text>
<text class="m t" transform="translate(308.5 1720.55) rotate(-90) scale(0.99 1.2)" font-size="13.72">.6</text>
<text class="m t" transform="translate(308.5 1691) rotate(-90) scale(0.99 1.2)" font-size="13.72">.8</text>
<text class="m t" transform="translate(308.5 1661.45) rotate(-90) scale(0.99 1.2)" font-size="13.72">1</text>
</g>
<g>
<rect class="hd" x="564.2" y="1629.6" width="200" height="21.95"/>
<text class="m" transform="translate(664.2 1644.06) scale(1 1)" font-size="17.4">SXG+Common</text>
<path class="gr" d="M565.2 1809.2H764.2M565.2 1779.65H764.2M565.2 1750.1H764.2M565.2 1720.55H764.2M565.2 1691H764.2M565.2 1661.45H764.2"/>
<path class="ax" d="M564.2 1652.25V1818.2H764.2M557.9 1809.2H564.2M557.9 1779.65H564.2M557.9 1750.1H564.2M557.9 1720.55H564.2M557.9 1691H564.2M557.9 1661.45H564.2M574.7 1818.2V1824.2M610.5 1818.2V1824.2M646.3 1818.2V1824.2M682.1 1818.2V1824.2M717.9 1818.2V1824.2M753.7 1818.2V1824.2"/>
<polyline class="ln" points="574.7,1809.2 592.6,1809.2 628.4,1682.58 664.2,1661.75 700,1661.45 735.8,1661.45 753.7,1661.45 753.7,1661.45"/>
<text class="m t" x="574.7" y="1837.7" font-size="14.6">1</text>
<text class="m t" x="610.5" y="1837.7" font-size="14.6">2</text>
<text class="m t" x="646.3" y="1837.7" font-size="14.6">3</text>
<text class="m t" x="682.1" y="1837.7" font-size="14.6">4</text>
<text class="m t" x="717.9" y="1837.7" font-size="14.6">5</text>
<text class="m t" x="753.7" y="1837.7" font-size="14.6">6</text>
<text class="m t" transform="translate(550.5 1809.2) rotate(-90) scale(0.99 1.2)" font-size="13.72">0</text>
<text class="m t" transform="translate(550.5 1779.65) rotate(-90) scale(0.99 1.2)" font-size="13.72">.2</text>
<text class="m t" transform="translate(550.5 1750.1) rotate(-90) scale(0.99 1.2)" font-size="13.72">.4</text>
<text class="m t" transform="translate(550.5 1720.55) rotate(-90) scale(0.99 1.2)" font-size="13.72">.6</text>
<text class="m t" transform="translate(550.5 1691) rotate(-90) scale(0.99 1.2)" font-size="13.72">.8</text>
<text class="m t" transform="translate(550.5 1661.45) rotate(-90) scale(0.99 1.2)" font-size="13.72">1</text>
</g>
<text class="m" transform="translate(408.3 1864.5) scale(1.07 0.99)" font-size="18.1">Rank</text>
<text class="n" transform="translate(48.75 1883.9) scale(1.085 0.99)" font-size="14.7">Graphs by Treatment</text>
<text class="m" transform="translate(39.3 1623.4) rotate(-90) scale(0.99 1.08)" font-size="18.6">Cumulative Probabilities</text>
<text class="nm" x="368.6" y="1972.8" font-size="47.3">BNP</text>
</g>
<g>
<path class="bd" d="M984.3 289.5H1769.5"/>
<path class="bd" d="M984.3 289.5V823.8H1769.5"/>
<text class="lt" x="924.2" y="287.5">D</text>
<g>
<rect class="hd" x="1059.25" y="313.15" width="200" height="21.95"/>
<text class="m" transform="translate(1159.25 327.66) scale(1 1)" font-size="17.4">CDS+Common</text>
<path class="gr" d="M1060.25 493.75H1259.25M1060.25 463.9H1259.25M1060.25 434.05H1259.25M1060.25 404.2H1259.25M1060.25 374.35H1259.25M1060.25 344.5H1259.25"/>
<path class="ax" d="M1059.25 335.8V503H1259.25M1052.95 493.75H1059.25M1052.95 463.9H1059.25M1052.95 434.05H1059.25M1052.95 404.2H1059.25M1052.95 374.35H1059.25M1052.95 344.5H1059.25M1069.25 503V509M1114.12 503V509M1159 503V509M1203.88 503V509M1248.75 503V509"/>
<polyline class="ln" points="1069.25,488.38 1091.69,488.38 1136.56,404.95 1181.44,372.86 1226.31,357.34 1248.75,357.34 1248.75,344.5"/>
<text class="m t" x="1069.25" y="522.5" font-size="14.6">1</text>
<text class="m t" x="1114.12" y="522.5" font-size="14.6">2</text>
<text class="m t" x="1159" y="522.5" font-size="14.6">3</text>
<text class="m t" x="1203.88" y="522.5" font-size="14.6">4</text>
<text class="m t" x="1248.75" y="522.5" font-size="14.6">5</text>
<text class="m t" transform="translate(1045.55 493.75) rotate(-90) scale(0.996 1.2)" font-size="13.72">0</text>
<text class="m t" transform="translate(1045.55 463.9) rotate(-90) scale(0.996 1.2)" font-size="13.72">.2</text>
<text class="m t" transform="translate(1045.55 434.05) rotate(-90) scale(0.996 1.2)" font-size="13.72">.4</text>
<text class="m t" transform="translate(1045.55 404.2) rotate(-90) scale(0.996 1.2)" font-size="13.72">.6</text>
<text class="m t" transform="translate(1045.55 374.35) rotate(-90) scale(0.996 1.2)" font-size="13.72">.8</text>
<text class="m t" transform="translate(1045.55 344.5) rotate(-90) scale(0.996 1.2)" font-size="13.72">1</text>
</g>
<g>
<rect class="hd" x="1301.1" y="313.15" width="200" height="21.95"/>
<text class="m" transform="translate(1401.1 327.66) scale(1 1)" font-size="17.4">Common</text>
<path class="gr" d="M1302.1 493.75H1501.1M1302.1 463.9H1501.1M1302.1 434.05H1501.1M1302.1 404.2H1501.1M1302.1 374.35H1501.1M1302.1 344.5H1501.1"/>
<path class="ax" d="M1301.1 335.8V503H1501.1M1294.8 493.75H1301.1M1294.8 463.9H1301.1M1294.8 434.05H1301.1M1294.8 404.2H1301.1M1294.8 374.35H1301.1M1294.8 344.5H1301.1M1311.1 503V509M1355.97 503V509M1400.85 503V509M1445.72 503V509M1490.6 503V509"/>
<polyline class="ln" points="1311.1,473.45 1333.54,473.45 1378.41,457.93 1423.29,422.71 1468.16,387.93 1490.6,387.93 1490.6,344.5"/>
<text class="m t" x="1311.1" y="522.5" font-size="14.6">1</text>
<text class="m t" x="1355.97" y="522.5" font-size="14.6">2</text>
<text class="m t" x="1400.85" y="522.5" font-size="14.6">3</text>
<text class="m t" x="1445.72" y="522.5" font-size="14.6">4</text>
<text class="m t" x="1490.6" y="522.5" font-size="14.6">5</text>
<text class="m t" transform="translate(1287.4 493.75) rotate(-90) scale(0.996 1.2)" font-size="13.72">0</text>
<text class="m t" transform="translate(1287.4 463.9) rotate(-90) scale(0.996 1.2)" font-size="13.72">.2</text>
<text class="m t" transform="translate(1287.4 434.05) rotate(-90) scale(0.996 1.2)" font-size="13.72">.4</text>
<text class="m t" transform="translate(1287.4 404.2) rotate(-90) scale(0.996 1.2)" font-size="13.72">.6</text>
<text class="m t" transform="translate(1287.4 374.35) rotate(-90) scale(0.996 1.2)" font-size="13.72">.8</text>
<text class="m t" transform="translate(1287.4 344.5) rotate(-90) scale(0.996 1.2)" font-size="13.72">1</text>
</g>
<g>
<rect class="hd" x="1542.9" y="313.15" width="200" height="21.95"/>
<text class="m" transform="translate(1642.9 327.66) scale(1 1)" font-size="17.4">SF+Common</text>
<path class="gr" d="M1543.9 493.75H1742.9M1543.9 463.9H1742.9M1543.9 434.05H1742.9M1543.9 404.2H1742.9M1543.9 374.35H1742.9M1543.9 344.5H1742.9"/>
<path class="ax" d="M1542.9 335.8V503H1742.9M1536.6 493.75H1542.9M1536.6 463.9H1542.9M1536.6 434.05H1542.9M1536.6 404.2H1542.9M1536.6 374.35H1542.9M1536.6 344.5H1542.9M1552.9 503V509M1597.78 503V509M1642.65 503V509M1687.53 503V509M1732.4 503V509"/>
<polyline class="ln" points="1552.9,397.48 1575.34,397.48 1620.21,388.38 1665.09,375.84 1709.96,363.9 1732.4,363.9 1732.4,344.5"/>
<text class="m t" x="1552.9" y="522.5" font-size="14.6">1</text>
<text class="m t" x="1597.78" y="522.5" font-size="14.6">2</text>
<text class="m t" x="1642.65" y="522.5" font-size="14.6">3</text>
<text class="m t" x="1687.53" y="522.5" font-size="14.6">4</text>
<text class="m t" x="1732.4" y="522.5" font-size="14.6">5</text>
<text class="m t" transform="translate(1529.2 493.75) rotate(-90) scale(0.996 1.2)" font-size="13.72">0</text>
<text class="m t" transform="translate(1529.2 463.9) rotate(-90) scale(0.996 1.2)" font-size="13.72">.2</text>
<text class="m t" transform="translate(1529.2 434.05) rotate(-90) scale(0.996 1.2)" font-size="13.72">.4</text>
<text class="m t" transform="translate(1529.2 404.2) rotate(-90) scale(0.996 1.2)" font-size="13.72">.6</text>
<text class="m t" transform="translate(1529.2 374.35) rotate(-90) scale(0.996 1.2)" font-size="13.72">.8</text>
<text class="m t" transform="translate(1529.2 344.5) rotate(-90) scale(0.996 1.2)" font-size="13.72">1</text>
</g>
<g>
<rect class="hd" x="1059.25" y="542.8" width="200" height="21.95"/>
<text class="m" transform="translate(1159.25 557.31) scale(1 1)" font-size="17.4">SM+Common</text>
<path class="gr" d="M1060.25 723.4H1259.25M1060.25 693.55H1259.25M1060.25 663.7H1259.25M1060.25 633.85H1259.25M1060.25 604H1259.25M1060.25 574.15H1259.25"/>
<path class="ax" d="M1059.25 565.45V732.65H1259.25M1052.95 723.4H1059.25M1052.95 693.55H1059.25M1052.95 663.7H1059.25M1052.95 633.85H1059.25M1052.95 604H1059.25M1052.95 574.15H1059.25M1069.25 732.65V738.65M1114.12 732.65V738.65M1159 732.65V738.65M1203.88 732.65V738.65M1248.75 732.65V738.65"/>
<polyline class="ln" points="1069.25,574.15 1091.69,574.15 1136.56,718.92 1181.44,688.18 1226.31,625.34 1248.75,574.15"/>
<text class="m t" x="1069.25" y="752.15" font-size="14.6">1</text>
<text class="m t" x="1114.12" y="752.15" font-size="14.6">2</text>
<text class="m t" x="1159" y="752.15" font-size="14.6">3</text>
<text class="m t" x="1203.88" y="752.15" font-size="14.6">4</text>
<text class="m t" x="1248.75" y="752.15" font-size="14.6">5</text>
<text class="m t" transform="translate(1045.55 723.4) rotate(-90) scale(0.996 1.2)" font-size="13.72">0</text>
<text class="m t" transform="translate(1045.55 693.55) rotate(-90) scale(0.996 1.2)" font-size="13.72">.2</text>
<text class="m t" transform="translate(1045.55 663.7) rotate(-90) scale(0.996 1.2)" font-size="13.72">.4</text>
<text class="m t" transform="translate(1045.55 633.85) rotate(-90) scale(0.996 1.2)" font-size="13.72">.6</text>
<text class="m t" transform="translate(1045.55 604) rotate(-90) scale(0.996 1.2)" font-size="13.72">.8</text>
<text class="m t" transform="translate(1045.55 574.15) rotate(-90) scale(0.996 1.2)" font-size="13.72">1</text>
</g>
<g>
<rect class="hd" x="1301.1" y="542.8" width="200" height="21.95"/>
<text class="m" transform="translate(1401.1 557.31) scale(1 1)" font-size="17.4">STIIAS+Common</text>
<path class="gr" d="M1302.1 723.4H1501.1M1302.1 693.55H1501.1M1302.1 663.7H1501.1M1302.1 633.85H1501.1M1302.1 604H1501.1M1302.1 574.15H1501.1"/>
<path class="ax" d="M1301.1 565.45V732.65H1501.1M1294.8 723.4H1301.1M1294.8 693.55H1301.1M1294.8 663.7H1301.1M1294.8 633.85H1301.1M1294.8 604H1301.1M1294.8 574.15H1301.1M1311.1 732.65V738.65M1355.97 732.65V738.65M1400.85 732.65V738.65M1445.72 732.65V738.65M1490.6 732.65V738.65"/>
<polyline class="ln" points="1311.1,704.59 1333.54,704.59 1378.41,666.09 1423.29,627.58 1468.16,604 1490.6,604 1490.6,574.15"/>
<text class="m t" x="1311.1" y="752.15" font-size="14.6">1</text>
<text class="m t" x="1355.97" y="752.15" font-size="14.6">2</text>
<text class="m t" x="1400.85" y="752.15" font-size="14.6">3</text>
<text class="m t" x="1445.72" y="752.15" font-size="14.6">4</text>
<text class="m t" x="1490.6" y="752.15" font-size="14.6">5</text>
<text class="m t" transform="translate(1287.4 723.4) rotate(-90) scale(0.996 1.2)" font-size="13.72">0</text>
<text class="m t" transform="translate(1287.4 693.55) rotate(-90) scale(0.996 1.2)" font-size="13.72">.2</text>
<text class="m t" transform="translate(1287.4 663.7) rotate(-90) scale(0.996 1.2)" font-size="13.72">.4</text>
<text class="m t" transform="translate(1287.4 633.85) rotate(-90) scale(0.996 1.2)" font-size="13.72">.6</text>
<text class="m t" transform="translate(1287.4 604) rotate(-90) scale(0.996 1.2)" font-size="13.72">.8</text>
<text class="m t" transform="translate(1287.4 574.15) rotate(-90) scale(0.996 1.2)" font-size="13.72">1</text>
</g>
<text class="m" transform="translate(1387 779) scale(1.07 0.996)" font-size="18.1">Rank</text>
<text class="n" transform="translate(1027.5 797.7) scale(1.085 0.996)" font-size="14.7">Graphs by Treatment</text>
<text class="m" transform="translate(1017.3 536.25) rotate(-90) scale(0.996 1.08)" font-size="18.6">Cumulative Probabilities</text>
<text class="nm" x="1361" y="889.8" font-size="47.5">BAD</text>
</g>
<g>
<path class="bd" d="M984.3 1047H1769.5"/>
<path class="bd" d="M984.3 1047V1587.6H1769.5"/>
<text class="lt" x="924.5" y="1035">E</text>
<g>
<rect class="hd" x="1059.25" y="1071.15" width="200" height="22.2"/>
<text class="m" transform="translate(1159.25 1085.88) scale(1 1)" font-size="17.4">CDS+Common</text>
<path class="gr" d="M1060.25 1254H1259.25M1060.25 1223.85H1259.25M1060.25 1193.7H1259.25M1060.25 1163.55H1259.25M1060.25 1133.4H1259.25M1060.25 1103.25H1259.25"/>
<path class="ax" d="M1059.25 1094.05V1264.25H1259.25M1052.95 1254H1059.25M1052.95 1223.85H1059.25M1052.95 1193.7H1059.25M1052.95 1163.55H1059.25M1052.95 1133.4H1059.25M1052.95 1103.25H1059.25M1069 1264.25V1270.25M1104.9 1264.25V1270.25M1140.8 1264.25V1270.25M1176.7 1264.25V1270.25M1212.6 1264.25V1270.25M1248.5 1264.25V1270.25"/>
<polyline class="ln" points="1069,1192.49 1086.95,1192.49 1122.85,1154.05 1158.75,1129.63 1194.65,1116.06 1230.55,1106.57 1248.5,1106.57 1248.5,1103.25"/>
<text class="m t" x="1069" y="1283.55" font-size="14.6">1</text>
<text class="m t" x="1104.9" y="1283.55" font-size="14.6">2</text>
<text class="m t" x="1140.8" y="1283.55" font-size="14.6">3</text>
<text class="m t" x="1176.7" y="1283.55" font-size="14.6">4</text>
<text class="m t" x="1212.6" y="1283.55" font-size="14.6">5</text>
<text class="m t" x="1248.5" y="1283.55" font-size="14.6">6</text>
<text class="m t" transform="translate(1045.55 1254) rotate(-90) scale(1.008 1.2)" font-size="13.72">0</text>
<text class="m t" transform="translate(1045.55 1223.85) rotate(-90) scale(1.008 1.2)" font-size="13.72">.2</text>
<text class="m t" transform="translate(1045.55 1193.7) rotate(-90) scale(1.008 1.2)" font-size="13.72">.4</text>
<text class="m t" transform="translate(1045.55 1163.55) rotate(-90) scale(1.008 1.2)" font-size="13.72">.6</text>
<text class="m t" transform="translate(1045.55 1133.4) rotate(-90) scale(1.008 1.2)" font-size="13.72">.8</text>
<text class="m t" transform="translate(1045.55 1103.25) rotate(-90) scale(1.008 1.2)" font-size="13.72">1</text>
</g>
<g>
<rect class="hd" x="1301.1" y="1071.15" width="200" height="22.2"/>
<text class="m" transform="translate(1401.1 1085.88) scale(1 1)" font-size="17.4">Common</text>
<path class="gr" d="M1302.1 1254H1501.1M1302.1 1223.85H1501.1M1302.1 1193.7H1501.1M1302.1 1163.55H1501.1M1302.1 1133.4H1501.1M1302.1 1103.25H1501.1"/>
<path class="ax" d="M1301.1 1094.05V1264.25H1501.1M1294.8 1254H1301.1M1294.8 1223.85H1301.1M1294.8 1193.7H1301.1M1294.8 1163.55H1301.1M1294.8 1133.4H1301.1M1294.8 1103.25H1301.1M1310.85 1264.25V1270.25M1346.75 1264.25V1270.25M1382.65 1264.25V1270.25M1418.55 1264.25V1270.25M1454.45 1264.25V1270.25M1490.35 1264.25V1270.25"/>
<polyline class="ln" points="1310.85,1254 1328.8,1254 1364.7,1250.98 1400.6,1227.92 1436.5,1164.3 1472.4,1108.68 1490.35,1108.68 1490.35,1103.25"/>
<text class="m t" x="1310.85" y="1283.55" font-size="14.6">1</text>
<text class="m t" x="1346.75" y="1283.55" font-size="14.6">2</text>
<text class="m t" x="1382.65" y="1283.55" font-size="14.6">3</text>
<text class="m t" x="1418.55" y="1283.55" font-size="14.6">4</text>
<text class="m t" x="1454.45" y="1283.55" font-size="14.6">5</text>
<text class="m t" x="1490.35" y="1283.55" font-size="14.6">6</text>
<text class="m t" transform="translate(1287.4 1254) rotate(-90) scale(1.008 1.2)" font-size="13.72">0</text>
<text class="m t" transform="translate(1287.4 1223.85) rotate(-90) scale(1.008 1.2)" font-size="13.72">.2</text>
<text class="m t" transform="translate(1287.4 1193.7) rotate(-90) scale(1.008 1.2)" font-size="13.72">.4</text>
<text class="m t" transform="translate(1287.4 1163.55) rotate(-90) scale(1.008 1.2)" font-size="13.72">.6</text>
<text class="m t" transform="translate(1287.4 1133.4) rotate(-90) scale(1.008 1.2)" font-size="13.72">.8</text>
<text class="m t" transform="translate(1287.4 1103.25) rotate(-90) scale(1.008 1.2)" font-size="13.72">1</text>
</g>
<g>
<rect class="hd" x="1542.9" y="1071.15" width="200" height="22.2"/>
<text class="m" transform="translate(1642.9 1085.88) scale(1 1)" font-size="17.4">DS+Common</text>
<path class="gr" d="M1543.9 1254H1742.9M1543.9 1223.85H1742.9M1543.9 1193.7H1742.9M1543.9 1163.55H1742.9M1543.9 1133.4H1742.9M1543.9 1103.25H1742.9"/>
<path class="ax" d="M1542.9 1094.05V1264.25H1742.9M1536.6 1254H1542.9M1536.6 1223.85H1542.9M1536.6 1193.7H1542.9M1536.6 1163.55H1542.9M1536.6 1133.4H1542.9M1536.6 1103.25H1542.9M1552.65 1264.25V1270.25M1588.55 1264.25V1270.25M1624.45 1264.25V1270.25M1660.35 1264.25V1270.25M1696.25 1264.25V1270.25M1732.15 1264.25V1270.25"/>
<polyline class="ln" points="1552.65,1253.55 1570.6,1253.55 1606.5,1251.59 1642.4,1247.97 1678.3,1239.98 1714.2,1220.53 1732.15,1220.53 1732.15,1103.25"/>
<text class="m t" x="1552.65" y="1283.55" font-size="14.6">1</text>
<text class="m t" x="1588.55" y="1283.55" font-size="14.6">2</text>
<text class="m t" x="1624.45" y="1283.55" font-size="14.6">3</text>
<text class="m t" x="1660.35" y="1283.55" font-size="14.6">4</text>
<text class="m t" x="1696.25" y="1283.55" font-size="14.6">5</text>
<text class="m t" x="1732.15" y="1283.55" font-size="14.6">6</text>
<text class="m t" transform="translate(1529.2 1254) rotate(-90) scale(1.008 1.2)" font-size="13.72">0</text>
<text class="m t" transform="translate(1529.2 1223.85) rotate(-90) scale(1.008 1.2)" font-size="13.72">.2</text>
<text class="m t" transform="translate(1529.2 1193.7) rotate(-90) scale(1.008 1.2)" font-size="13.72">.4</text>
<text class="m t" transform="translate(1529.2 1163.55) rotate(-90) scale(1.008 1.2)" font-size="13.72">.6</text>
<text class="m t" transform="translate(1529.2 1133.4) rotate(-90) scale(1.008 1.2)" font-size="13.72">.8</text>
<text class="m t" transform="translate(1529.2 1103.25) rotate(-90) scale(1.008 1.2)" font-size="13.72">1</text>
</g>
<g>
<rect class="hd" x="1059.25" y="1303.4" width="200" height="22.2"/>
<text class="m" transform="translate(1159.25 1318.13) scale(1 1)" font-size="17.4">SF+Common</text>
<path class="gr" d="M1060.25 1486.25H1259.25M1060.25 1456.1H1259.25M1060.25 1425.95H1259.25M1060.25 1395.8H1259.25M1060.25 1365.65H1259.25M1060.25 1335.5H1259.25"/>
<path class="ax" d="M1059.25 1326.3V1496.5H1259.25M1052.95 1486.25H1059.25M1052.95 1456.1H1059.25M1052.95 1425.95H1059.25M1052.95 1395.8H1059.25M1052.95 1365.65H1059.25M1052.95 1335.5H1059.25M1069 1496.5V1502.5M1104.9 1496.5V1502.5M1140.8 1496.5V1502.5M1176.7 1496.5V1502.5M1212.6 1496.5V1502.5M1248.5 1496.5V1502.5"/>
<polyline class="ln" points="1069,1466.05 1086.95,1466.05 1122.85,1439.52 1158.75,1409.37 1194.65,1382.99 1230.55,1348.77 1248.5,1348.77 1248.5,1335.5"/>
<text class="m t" x="1069" y="1515.8" font-size="14.6">1</text>
<text class="m t" x="1104.9" y="1515.8" font-size="14.6">2</text>
<text class="m t" x="1140.8" y="1515.8" font-size="14.6">3</text>
<text class="m t" x="1176.7" y="1515.8" font-size="14.6">4</text>
<text class="m t" x="1212.6" y="1515.8" font-size="14.6">5</text>
<text class="m t" x="1248.5" y="1515.8" font-size="14.6">6</text>
<text class="m t" transform="translate(1045.55 1486.25) rotate(-90) scale(1.008 1.2)" font-size="13.72">0</text>
<text class="m t" transform="translate(1045.55 1456.1) rotate(-90) scale(1.008 1.2)" font-size="13.72">.2</text>
<text class="m t" transform="translate(1045.55 1425.95) rotate(-90) scale(1.008 1.2)" font-size="13.72">.4</text>
<text class="m t" transform="translate(1045.55 1395.8) rotate(-90) scale(1.008 1.2)" font-size="13.72">.6</text>
<text class="m t" transform="translate(1045.55 1365.65) rotate(-90) scale(1.008 1.2)" font-size="13.72">.8</text>
<text class="m t" transform="translate(1045.55 1335.5) rotate(-90) scale(1.008 1.2)" font-size="13.72">1</text>
</g>
<g>
<rect class="hd" x="1301.1" y="1303.4" width="200" height="22.2"/>
<text class="m" transform="translate(1401.1 1318.13) scale(1 1)" font-size="17.4">SM+Common</text>
<path class="gr" d="M1302.1 1486.25H1501.1M1302.1 1456.1H1501.1M1302.1 1425.95H1501.1M1302.1 1395.8H1501.1M1302.1 1365.65H1501.1M1302.1 1335.5H1501.1"/>
<path class="ax" d="M1301.1 1326.3V1496.5H1501.1M1294.8 1486.25H1301.1M1294.8 1456.1H1301.1M1294.8 1425.95H1301.1M1294.8 1395.8H1301.1M1294.8 1365.65H1301.1M1294.8 1335.5H1301.1M1310.85 1496.5V1502.5M1346.75 1496.5V1502.5M1382.65 1496.5V1502.5M1418.55 1496.5V1502.5M1454.45 1496.5V1502.5M1490.35 1496.5V1502.5"/>
<polyline class="ln" points="1310.85,1460.17 1328.8,1460.17 1364.7,1428.06 1400.6,1395.35 1436.5,1369.72 1472.4,1344.55 1490.35,1344.55 1490.35,1335.5"/>
<text class="m t" x="1310.85" y="1515.8" font-size="14.6">1</text>
<text class="m t" x="1346.75" y="1515.8" font-size="14.6">2</text>
<text class="m t" x="1382.65" y="1515.8" font-size="14.6">3</text>
<text class="m t" x="1418.55" y="1515.8" font-size="14.6">4</text>
<text class="m t" x="1454.45" y="1515.8" font-size="14.6">5</text>
<text class="m t" x="1490.35" y="1515.8" font-size="14.6">6</text>
<text class="m t" transform="translate(1287.4 1486.25) rotate(-90) scale(1.008 1.2)" font-size="13.72">0</text>
<text class="m t" transform="translate(1287.4 1456.1) rotate(-90) scale(1.008 1.2)" font-size="13.72">.2</text>
<text class="m t" transform="translate(1287.4 1425.95) rotate(-90) scale(1.008 1.2)" font-size="13.72">.4</text>
<text class="m t" transform="translate(1287.4 1395.8) rotate(-90) scale(1.008 1.2)" font-size="13.72">.6</text>
<text class="m t" transform="translate(1287.4 1365.65) rotate(-90) scale(1.008 1.2)" font-size="13.72">.8</text>
<text class="m t" transform="translate(1287.4 1335.5) rotate(-90) scale(1.008 1.2)" font-size="13.72">1</text>
</g>
<g>
<rect class="hd" x="1542.9" y="1303.4" width="200" height="22.2"/>
<text class="m" transform="translate(1642.9 1318.13) scale(1 1)" font-size="17.4">SXG+Common</text>
<path class="gr" d="M1543.9 1486.25H1742.9M1543.9 1456.1H1742.9M1543.9 1425.95H1742.9M1543.9 1395.8H1742.9M1543.9 1365.65H1742.9M1543.9 1335.5H1742.9"/>
<path class="ax" d="M1542.9 1326.3V1496.5H1742.9M1536.6 1486.25H1542.9M1536.6 1456.1H1542.9M1536.6 1425.95H1542.9M1536.6 1395.8H1542.9M1536.6 1365.65H1542.9M1536.6 1335.5H1542.9M1552.65 1496.5V1502.5M1588.55 1496.5V1502.5M1624.45 1496.5V1502.5M1660.35 1496.5V1502.5M1696.25 1496.5V1502.5M1732.15 1496.5V1502.5"/>
<polyline class="ln" points="1552.65,1443.29 1570.6,1443.29 1606.5,1394.14 1642.4,1358.11 1678.3,1342.13 1714.2,1336.25 1732.15,1336.25 1732.15,1335.5"/>
<text class="m t" x="1552.65" y="1515.8" font-size="14.6">1</text>
<text class="m t" x="1588.55" y="1515.8" font-size="14.6">2</text>
<text class="m t" x="1624.45" y="1515.8" font-size="14.6">3</text>
<text class="m t" x="1660.35" y="1515.8" font-size="14.6">4</text>
<text class="m t" x="1696.25" y="1515.8" font-size="14.6">5</text>
<text class="m t" x="1732.15" y="1515.8" font-size="14.6">6</text>
<text class="m t" transform="translate(1529.2 1486.25) rotate(-90) scale(1.008 1.2)" font-size="13.72">0</text>
<text class="m t" transform="translate(1529.2 1456.1) rotate(-90) scale(1.008 1.2)" font-size="13.72">.2</text>
<text class="m t" transform="translate(1529.2 1425.95) rotate(-90) scale(1.008 1.2)" font-size="13.72">.4</text>
<text class="m t" transform="translate(1529.2 1395.8) rotate(-90) scale(1.008 1.2)" font-size="13.72">.6</text>
<text class="m t" transform="translate(1529.2 1365.65) rotate(-90) scale(1.008 1.2)" font-size="13.72">.8</text>
<text class="m t" transform="translate(1529.2 1335.5) rotate(-90) scale(1.008 1.2)" font-size="13.72">1</text>
</g>
<text class="m" transform="translate(1386.8 1542.7) scale(1.07 1.008)" font-size="18.1">Rank</text>
<text class="n" transform="translate(1027.5 1561.9) scale(1.085 1.008)" font-size="14.7">Graphs by Treatment</text>
<text class="m" transform="translate(1017.3 1297.25) rotate(-90) scale(1.008 1.08)" font-size="18.6">Cumulative Probabilities</text>
<text class="nm" x="1361.6" y="1649.8" font-size="47.5">6MWD</text>
</g>
</svg></body></html>
